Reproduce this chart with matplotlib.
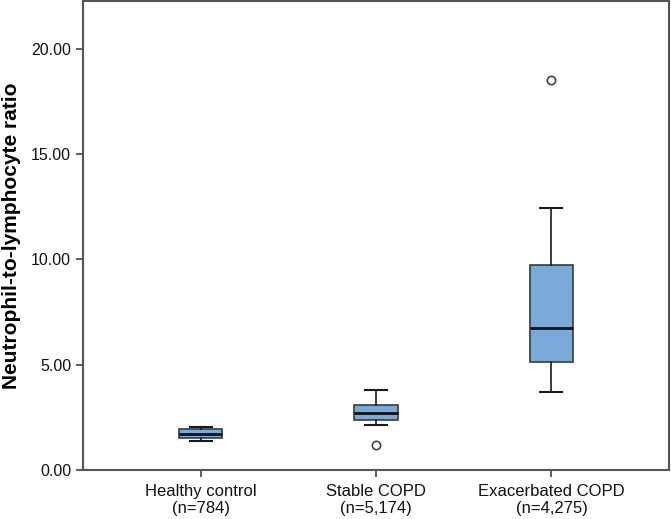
import matplotlib
matplotlib.use("Agg")
import matplotlib.pyplot as plt

plt.rcParams['font.family'] = ['Liberation Sans', 'DejaVu Sans']

categories = ["Healthy control\n(n=784)", "Stable COPD\n(n=5,174)", "Exacerbated COPD\n(n=4,275)"]
whisker_low = [1.39, 2.14, 3.69]
q1 = [1.53, 2.38, 5.12]
median = [1.71, 2.69, 6.73]
q3 = [1.93, 3.09, 9.74]
whisker_high = [2.06, 3.80, 12.43]
outliers = [[], [1.19], [18.53]]
yticks = [0, 5, 10, 15, 20]
ylabel = "Neutrophil-to-lymphocyte ratio"

fig = plt.figure(figsize=(6.71, 5.19), dpi=100)
ax = fig.add_axes([83/671, 1 - 470/519, (669-83)/671, (470-1)/519])

stats = []
for i in range(len(categories)):
    stats.append(dict(med=median[i], q1=q1[i], q3=q3[i],
                      whislo=whisker_low[i], whishi=whisker_high[i],
                      fliers=outliers[i], label=categories[i]))

ax.bxp(stats, positions=[1, 2, 3], widths=0.25, capwidths=0.125,
       patch_artist=True,
       boxprops=dict(facecolor="#7aaad9", edgecolor="#3a3a3a", linewidth=1.2),
       medianprops=dict(color="#111111", linewidth=2.0),
       whiskerprops=dict(color="#1a1a1a", linewidth=1.2),
       capprops=dict(color="#1a1a1a", linewidth=1.5),
       flierprops=dict(marker="o", markersize=6, markerfacecolor="white",
                       markeredgecolor="#444444", markeredgewidth=1.2))

ax.set_xlim(0.33, 3.67)
ax.set_ylim(0, 22.28)
ax.set_yticks(yticks)
ax.set_yticklabels([f"{v:.2f}" for v in yticks])
ax.set_xticks([1, 2, 3])
ax.set_xticklabels(categories, fontsize=12, linespacing=1.15)
ax.tick_params(axis='y', labelsize=11.5)
ax.tick_params(axis='both', color="#444444", length=5, width=1.2, labelcolor="#111111")
ax.tick_params(axis='x', pad=5)
ax.set_ylabel(ylabel, fontsize=15, fontweight="bold")
ax.yaxis.set_label_coords((21 - 83) / 586, 0.5)

for s in ax.spines.values():
    s.set_color("#555555")
    s.set_linewidth(1.5)

fig.savefig("out.png", dpi=100)
